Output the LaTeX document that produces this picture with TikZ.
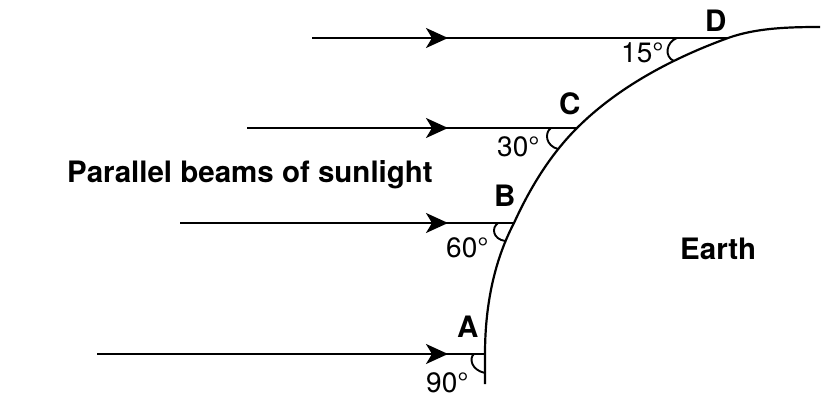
\documentclass[tikz,border=0pt]{standalone}
\usepackage{fontspec}
\setmainfont{TeX Gyre Heros}
\usetikzlibrary{arrows.meta}
\begin{document}
\begin{tikzpicture}[x=1pt,y=-1pt,
  ray/.style={line width=2.2pt},
  tipstyle/.style={line width=2.2pt,-{Stealth[length=22pt,width=20pt,inset=6pt]}},
  earthline/.style={line width=2.2pt},
  anglearc/.style={line width=1.9pt},
  lbl/.style={inner sep=0pt,anchor=base west,font=\fontsize{28}{30}\selectfont},
  blbl/.style={inner sep=0pt,anchor=base west,font=\fontsize{29.5}{32}\selectfont\bfseries}]
\useasboundingbox (0,0) rectangle (838,414);
% points on the Earth
\coordinate (A) at (485,354);
\coordinate (B) at (514,223);
\coordinate (C) at (577,128);
\coordinate (D) at (728,38);
\coordinate (bot) at (485,384);
\coordinate (top) at (820,27);
% ray starts
\coordinate (sA) at (97,354);
\coordinate (sB) at (180,223);
\coordinate (sC) at (247,128);
\coordinate (sD) at (312,38);
% arrow tips
\coordinate (tA) at (448,354);
\coordinate (tB) at (448,223);
\coordinate (tC) at (448,128);
\coordinate (tD) at (448,38);
% Earth surface
\draw[earthline] (bot) -- (A)
  .. controls (485,309) and (493,263) .. (B)
  .. controls (530,188) and (550,155) .. (C)
  .. controls (618,87) and (673,58) .. (D)
  .. controls (756,28) and (788,27) .. (top);
% rays
\foreach \s/\t/\e in {sA/tA/A,sB/tB/B,sC/tC/C,sD/tD/D}{
  \draw[ray] (\s) -- (\e);
  \draw[tipstyle] (\s) -- (\t);
}
% angle arcs
\draw[anglearc] (474,354) .. controls (469,358) and (471,370) .. (485,373);
\draw[anglearc] (498,223) .. controls (491,228) and (493,239) .. (505,241);
\draw[anglearc] (551,128) .. controls (544,133) and (546,146) .. (558,149);
\draw[anglearc] (677,38) .. controls (666,42) and (664,57) .. (674,61);
% labels
\node[blbl] (lD) at (705,32) {D};
\node[lbl] (aD) at (621,63) {15°};
\node[blbl] (lC) at (559,115) {C};
\node[lbl] (aC) at (497,157) {30°};
\node[blbl] (lB) at (494,207) {B};
\node[lbl] (aB) at (446,258) {60°};
\node[blbl] (lA) at (457,337) {A};
\node[lbl] (aA) at (426,392) {90°};
\node[blbl] (par) at (67,183) {Parallel beams of sunlight};
\node[blbl] (earth) at (680,259) {Earth};
\end{tikzpicture}
\end{document}
